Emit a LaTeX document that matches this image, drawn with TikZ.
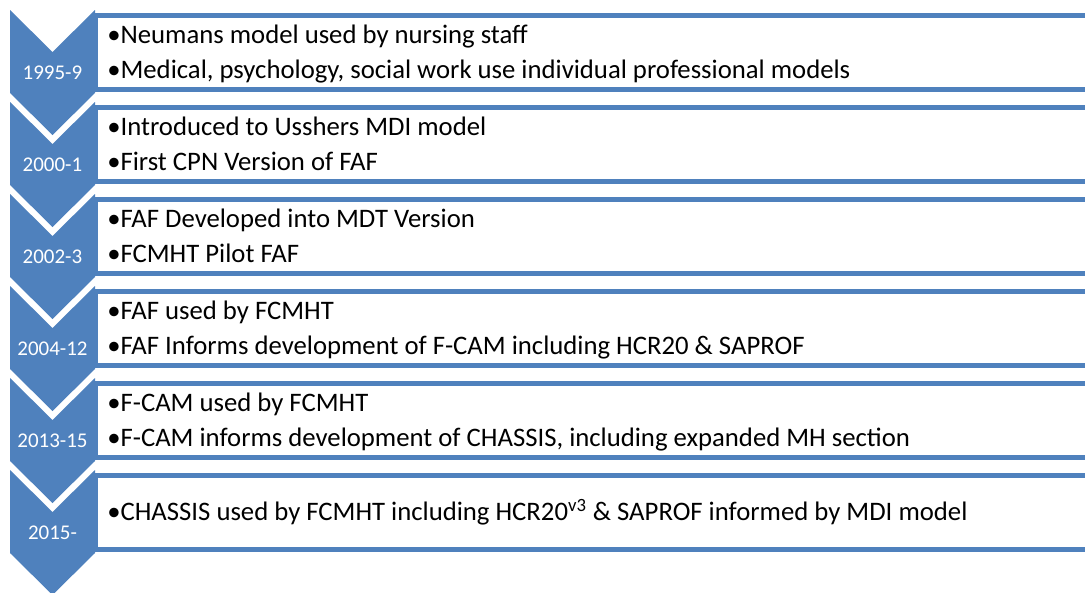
\documentclass[tikz,border=0pt]{standalone}
\usepackage{fontspec}
\setmainfont{Carlito}
\definecolor{chevblue}{HTML}{4F81BD}
\begin{document}
\begin{tikzpicture}[x=0.025cm,y=-0.025cm]
		\tikzset{chev/.style = {fill=chevblue},
			panel/.style = {draw=chevblue, line width=5*0.7113pt, fill=white},
			item/.style = {anchor=base west, inner sep=0pt, font=\fontsize{19}{22}\selectfont},
			year/.style = {anchor=base, inner sep=0pt, text=white, font=\fontsize{14.9}{18}\selectfont}}

		\useasboundingbox (0,0) rectangle (1085,592);
		\clip (0,0) rectangle (1085,592);

		%panels
		\draw[panel] (95,15.5) rectangle (1100,89.5);
		\draw[panel] (95,107.5) rectangle (1100,181.5);
		\draw[panel] (95,199.5) rectangle (1100,273.5);
		\draw[panel] (95,291.5) rectangle (1100,365.5);
		\draw[panel] (95,383.5) rectangle (1100,457.5);
		\draw[panel] (95,475.5) rectangle (1100,549.5);

		%chevrons
		\fill[chev] (10,10) -- (52.5,52) -- (95,10) -- (95,93) -- (52.5,135) -- (10,93) -- cycle;
		\fill[chev] (10,102) -- (52.5,144) -- (95,102) -- (95,185) -- (52.5,227) -- (10,185) -- cycle;
		\fill[chev] (10,194) -- (52.5,236) -- (95,194) -- (95,277) -- (52.5,319) -- (10,277) -- cycle;
		\fill[chev] (10,286) -- (52.5,328) -- (95,286) -- (95,369) -- (52.5,411) -- (10,369) -- cycle;
		\fill[chev] (10,378) -- (52.5,420) -- (95,378) -- (95,461) -- (52.5,503) -- (10,461) -- cycle;
		\fill[chev] (10,470) -- (52.5,512) -- (95,470) -- (95,553) -- (52.5,595) -- (10,553) -- cycle;

		%years
		\node[year] (Y_1) at (52.5,79) {1995-9};
		\node[year] (Y_2) at (52.5,171) {2000-1};
		\node[year] (Y_3) at (52.5,263) {2002-3};
		\node[year] (Y_4) at (52.5,355) {2004-12};
		\node[year] (Y_5) at (52.5,447) {2013-15};
		\node[year] (Y_6) at (52.5,539) {2015-};

		%items
		\node[item] (T_1a) at (107,43) {•Neumans model used by nursing staff};
		\node[item] (T_1b) at (107,78) {•Medical, psychology, social work use individual professional models};
		\node[item] (T_2a) at (107,135) {•Introduced to Usshers MDI model};
		\node[item] (T_2b) at (107,170) {•First CPN Version of FAF};
		\node[item] (T_3a) at (107,227) {•FAF Developed into MDT Version};
		\node[item] (T_3b) at (107,262) {•FCMHT Pilot FAF};
		\node[item] (T_4a) at (107,319) {•FAF used by FCMHT};
		\node[item] (T_4b) at (107,354) {•FAF Informs development of F-CAM including HCR20 \& SAPROF};
		\node[item] (T_5a) at (107,411) {•F-CAM used by FCMHT};
		\node[item] (T_5b) at (107,446) {•F-CAM informs development of CHASSIS, including expanded MH section};
		\node[item] (T_6) at (107,520.5) {•CHASSIS used by FCMHT including HCR20\textsuperscript{v3} \& SAPROF informed by MDI model};

	\end{tikzpicture}
\end{document}
